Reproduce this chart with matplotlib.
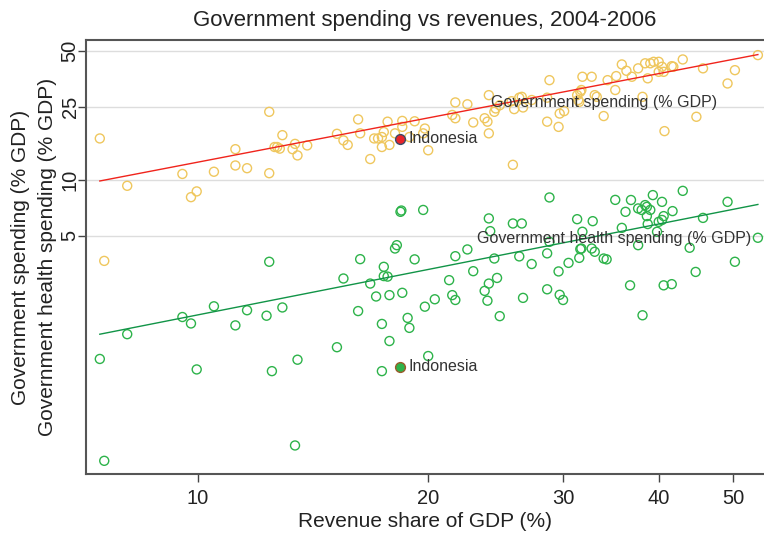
import matplotlib
matplotlib.use("Agg")
import matplotlib.pyplot as plt
import numpy as np
from matplotlib.ticker import FixedLocator, NullLocator, FixedFormatter

# government spending (% GDP) vs revenue share of GDP (%)
spend_x = [7.45, 7.55, 8.09, 9.55, 9.80, 9.97, 10.5, 11.2, 11.2, 11.6, 12.4, 12.4,
           12.6, 12.7, 12.8, 12.9, 13.4, 13.3, 13.5, 13.9, 15.2, 15.5, 15.7, 16.2,
           16.3, 16.8, 17.0, 17.2, 17.4, 17.5, 17.4, 17.8, 17.7, 18.1, 18.5, 18.5,
           19.2, 18.9, 19.7, 20.0, 19.8,
           21.5, 21.7, 21.7, 22.5, 22.9, 23.7, 24.0, 23.9, 24.0, 24.4, 24.5, 24.8,
           25.7, 25.9, 26.3, 26.5, 26.6, 27.3, 28.6, 28.8, 28.6, 29.7, 29.6, 30.1,
           31.3, 31.4, 31.6, 31.8, 31.7, 31.5, 32.7, 33.0, 33.2, 33.9, 34.3, 35.1,
           35.2, 35.8, 36.3, 36.9, 37.6, 38.1, 38.4, 38.7, 39.0, 39.4, 40.0, 40.4,
           40.6, 40.0, 41.6, 41.8, 43.0, 40.7, 44.8, 45.7, 49.2, 50.3, 53.9, 25.8]
spend_y = [16.8, 3.66, 9.32, 10.8, 8.09, 8.69, 11.1, 14.7, 12.0, 11.6, 23.4, 10.9,
           15.1, 15.1, 14.8, 17.5, 15.7, 14.7, 13.6, 15.4, 17.8, 16.4, 15.5, 21.3,
           17.9, 13.0, 16.8, 16.8, 17.1, 18.2, 15.1, 15.5, 20.7, 17.9, 20.9, 19.4,
           20.8, 17.1, 17.9, 14.5, 19.0,
           22.5, 21.6, 26.3, 25.7, 20.5, 21.6, 28.8, 20.7, 17.9, 23.4, 24.4, 25.4,
           26.7, 24.2, 27.9, 28.2, 24.7, 27.1, 27.9, 34.7, 20.7, 22.9, 19.4, 23.6,
           28.8, 27.1, 30.0, 36.2, 30.7, 26.5, 36.2, 28.8, 28.2, 22.2, 34.7, 30.7,
           36.5, 42.2, 39.0, 36.2, 40.2, 28.2, 42.8, 35.5, 42.8, 43.6, 43.6, 41.0,
           38.5, 38.5, 41.3, 41.0, 44.9, 18.4, 22.0, 40.2, 33.3, 39.3, 47.4, 12.1]

# government health spending (% GDP) vs revenue share of GDP (%)
health_x = [7.45, 7.55, 8.09, 9.55, 9.80, 9.97, 10.5, 11.2, 11.6, 12.3, 12.4, 12.5,
            12.9, 13.5, 13.4, 15.2, 15.5, 16.2, 16.3, 16.8, 17.1, 17.4, 17.4, 17.5,
            17.5, 17.7, 17.8, 17.8, 18.1, 18.2, 18.5, 18.8, 18.9, 19.2, 19.8, 20.0,
            18.4, 18.45, 19.7,
            20.4, 21.3, 21.5, 21.7, 21.7, 22.5, 22.9, 23.7, 24.0, 23.9, 24.0, 24.1,
            24.4, 24.6, 24.8, 25.8, 26.5, 26.3, 26.6, 27.3, 28.6, 28.6, 28.8, 28.8,
            29.7, 30.0, 29.6, 30.5, 31.3, 31.6, 31.5, 31.8, 31.7, 32.7, 32.8, 33.0,
            33.9, 34.2, 35.1, 35.8, 36.2, 36.7, 36.8, 37.6, 38.0, 38.4, 38.6, 38.6,
            39.0, 38.7, 37.6, 38.1, 39.3, 40.4, 40.4, 40.6, 40.0, 39.8, 40.6, 41.6,
            41.7, 43.0, 43.9, 44.7, 45.7, 49.2, 50.3, 53.9]
health_y = [1.08, 0.304, 1.47, 1.82, 1.68, 0.948, 2.08, 1.64, 1.98, 1.85, 3.62, 0.928,
            2.05, 1.07, 0.368, 1.25, 2.94, 1.96, 3.74, 2.76, 2.35, 1.67, 0.928, 3.40,
            3.03, 3.01, 2.39, 1.35, 4.27, 4.45, 2.46, 1.80, 1.59, 3.73, 2.07, 1.12,
            6.74, 6.85, 6.90,
            2.27, 2.88, 2.39, 2.25, 3.88, 4.22, 3.22, 2.52, 2.76, 2.23, 6.21, 5.30,
            3.77, 2.96, 1.84, 5.83, 5.83, 3.87, 2.31, 3.52, 2.57, 4.02, 8.06, 4.64,
            2.40, 2.25, 3.21, 3.57, 6.15, 4.24, 3.80, 5.26, 4.27, 4.27, 6.00, 4.10,
            3.77, 3.73, 7.82, 5.52, 6.74, 2.70, 7.81, 7.03, 6.90, 7.33, 7.17, 6.39,
            6.90, 5.79, 4.45, 1.86, 8.30, 7.63, 6.09, 6.39, 5.95, 5.26, 2.70, 2.74,
            6.80, 8.75, 4.31, 3.19, 6.25, 7.63, 3.62, 4.88]

# power-law fits (log10 y = a + b log10 x), as drawn in the original
spend_fit = (0.302, 0.795)
health_fit = (-0.5445, 0.816)

indonesia_x = 18.4
indonesia_spend = 16.7
indonesia_health = 0.98

xticks = [10, 20, 30, 40, 50]
yticks = [5, 10, 25, 50]

plt.rcParams['font.family'] = "sans-serif"
plt.rcParams['font.sans-serif'] = ["Liberation Sans", "DejaVu Sans"]

fig = plt.figure(figsize=(7.64, 5.33), dpi=100)
ax = fig.add_axes([86/764, 59/533, 678/764, 434/533])

ax.set_xscale("log")
ax.set_yscale("log")
ax.set_xlim(7.147, 54.9)
ax.set_ylim(0.258, 57.2)

for y in yticks:
    ax.axhline(y, color="#dddddd", lw=1, zorder=0)

def fit_line(xs, coef):
    a, b = coef
    xx = np.array([min(xs), max(xs)])
    return xx, 10 ** (a + b * np.log10(xx))

ax.scatter(spend_x, spend_y, s=42, facecolors="none", edgecolors="#EFC75E",
           linewidths=1.0, zorder=2)
ax.scatter(health_x, health_y, s=42, facecolors="none", edgecolors="#2DB34A",
           linewidths=1.0, zorder=2)

fx, fy = fit_line(spend_x, spend_fit)
ax.plot(fx, fy, color="#F0241C", lw=1.0, zorder=3)
fx, fy = fit_line(health_x, health_fit)
ax.plot(fx, fy, color="#119447", lw=1.0, zorder=3)

ax.scatter([indonesia_x], [indonesia_spend], s=50, color="#E8242A",
           edgecolors="#3D4A66", linewidths=1.0, zorder=4)
ax.scatter([indonesia_x], [indonesia_health], s=50, color="#2DB34A",
           edgecolors="#9A5A2A", linewidths=1.0, zorder=4)
ax.annotate("Indonesia", (indonesia_x, indonesia_spend), xytext=(6, 0),
            textcoords="offset points", va="center", fontsize=11.5, color="#333333")
ax.annotate("Indonesia", (indonesia_x, indonesia_health), xytext=(6, 0),
            textcoords="offset points", va="center", fontsize=11.5, color="#333333")

ax.text(0.597, 0.857, "Government spending (% GDP)", transform=ax.transAxes,
        va="center", ha="left", fontsize=11.5, color="#333333")
ax.text(0.576, 0.543, "Government health spending (% GDP)", transform=ax.transAxes,
        va="center", ha="left", fontsize=11.5, color="#333333")

ax.xaxis.set_major_locator(FixedLocator(xticks))
ax.xaxis.set_major_formatter(FixedFormatter([str(t) for t in xticks]))
ax.xaxis.set_minor_locator(NullLocator())
ax.yaxis.set_major_locator(FixedLocator(yticks))
ax.yaxis.set_major_formatter(FixedFormatter([str(t) for t in yticks]))
ax.yaxis.set_minor_locator(NullLocator())
ax.tick_params(axis="both", direction="out", length=6, width=1, color="#444444",
               labelsize=14.5, labelcolor="#222222")
ax.tick_params(axis="x", pad=5)
ax.tick_params(axis="y", pad=-1.5)
for lab in ax.get_yticklabels():
    lab.set_rotation(90)
    lab.set_va("center")

for side in ["left", "bottom", "top"]:
    ax.spines[side].set_color("#555555")
    ax.spines[side].set_linewidth(1.5)
ax.spines["right"].set_visible(False)

ax.set_xlabel("Revenue share of GDP (%)", fontsize=15, color="#222222", labelpad=3)
ax.set_ylabel("Government spending (% GDP)\nGovernment health spending (% GDP)",
              fontsize=15, color="#222222", va="center", linespacing=1.5)
ax.yaxis.set_label_coords(-0.0765, 0.5)
ax.set_title("Government spending vs revenues, 2004-2006", fontsize=16,
             color="#222222", pad=10)

fig.savefig("out.png", dpi=100)
